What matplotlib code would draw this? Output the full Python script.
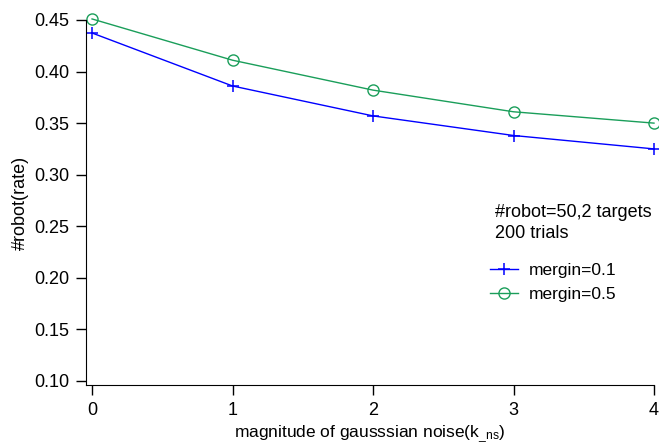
import matplotlib.pyplot as plt

plt.rcParams['font.family'] = ['Liberation Sans', 'DejaVu Sans']
plt.rcParams['mathtext.fontset'] = 'custom'
plt.rcParams['mathtext.rm'] = 'Liberation Sans'
plt.rcParams['mathtext.default'] = 'regular'

ruido = [0, 1, 2, 3, 4]
mergin_01 = [0.4374, 0.386, 0.357, 0.338, 0.325]
mergin_05 = [0.451, 0.411, 0.382, 0.361, 0.350]
yticks = [0.10, 0.15, 0.20, 0.25, 0.30, 0.35, 0.40, 0.45]

fig = plt.figure(figsize=(6.59, 4.48), dpi=100)
ax = fig.add_axes([0.1305, 0.1406, 0.8619, 0.8148])

ax.plot(ruido, mergin_01, color='#0000ff', lw=1, marker='+', ms=9, mew=1.1,
        label='mergin=0.1', clip_on=False)
ax.plot(ruido, mergin_05, color='#1a9e5a', lw=1, marker='o', ms=8, mew=1,
        mfc='none', label='mergin=0.5', clip_on=False)

ax.set_xlim(-0.043, 4)
ax.set_ylim(0.0961, 0.45)
ax.set_xticks(ruido)
ax.set_yticks(yticks)
ax.set_yticklabels(['%.2f' % v for v in yticks])
ax.spines['top'].set_visible(False)
ax.spines['right'].set_visible(False)
ax.tick_params(direction='out', length=7, width=1, labelsize=13, pad=5)

ax.set_xlabel('magnitude of gausssian noise(k$_{\\_ns}$)', fontsize=12.5, labelpad=3)
ax.set_ylabel('#robot(rate)', fontsize=13, labelpad=4)

fig.text(495 / 659, 1 - 212 / 448, '#robot=50,2 targets', fontsize=13,
         va='center', ha='left')
fig.text(495 / 659, 1 - 233 / 448, '200 trials', fontsize=13,
         va='center', ha='left')
ax.legend(loc='upper left', bbox_to_anchor=(490 / 659, 1 - 263 / 448),
          bbox_transform=fig.transFigure, frameon=False, fontsize=12.5,
          borderpad=0, borderaxespad=0, handlelength=1.6, handletextpad=0.63,
          labelspacing=0.5)

plt.savefig('out.png', dpi=100)
